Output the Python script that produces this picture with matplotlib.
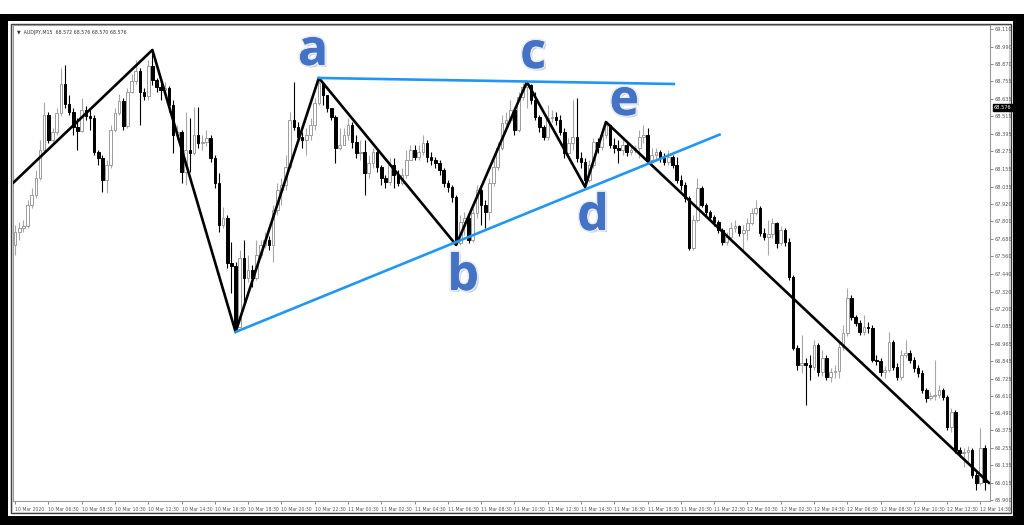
import matplotlib
matplotlib.use('Agg')
import matplotlib.pyplot as plt
import matplotlib.patheffects as pe
import matplotlib.transforms as mtransforms
from matplotlib.patches import Rectangle
import numpy as np

# AUDJPY M15, 10 Mar 04:30 -> 12 Mar 14:30
first_open = 67.638
closes = [
    67.726, 67.754, 67.767, 67.911, 67.979, 68.095, 68.285, 68.524, 68.354, 68.408,
    68.538, 68.735, 68.599, 68.545, 68.442, 68.415, 68.558, 68.517, 68.504, 68.272,
    68.231, 68.081, 68.183, 68.422, 68.538, 68.619, 68.449, 68.681, 68.756, 68.824,
    68.681, 68.654, 68.858, 68.763, 68.715, 68.695, 68.708, 68.592, 68.388, 68.408,
    68.135, 68.285, 68.265, 68.388, 68.333, 68.340, 68.367, 68.231, 68.060, 67.774,
    67.822, 67.515, 67.495, 67.079, 67.549, 67.413, 67.467, 67.413, 67.570, 67.638,
    67.672, 67.638, 67.876, 68.013, 68.047, 68.170, 68.490, 68.442, 68.374, 68.354,
    68.388, 68.456, 68.606, 68.742, 68.660, 68.572, 68.510, 68.299, 68.320, 68.388,
    68.456, 68.340, 68.265, 68.272, 68.129, 68.197, 68.272, 68.170, 68.095, 68.067,
    68.183, 68.115, 68.060, 68.115, 68.217, 68.285, 68.238, 68.272, 68.333, 68.238,
    68.217, 68.197, 68.149, 68.060, 68.033, 67.965, 67.651, 67.795, 67.822, 67.672,
    67.856, 68.013, 67.911, 67.863, 68.060, 68.170, 68.299, 68.470, 68.490, 68.558,
    68.422, 68.647, 68.715, 68.729, 68.626, 68.510, 68.442, 68.374, 68.504, 68.510,
    68.490, 68.408, 68.265, 68.333, 68.374, 68.231, 68.204, 68.081, 68.183, 68.340,
    68.306, 68.388, 68.456, 68.320, 68.299, 68.285, 68.320, 68.272, 68.285, 68.299,
    68.374, 68.388, 68.217, 68.251, 68.272, 68.231, 68.204, 68.238, 68.183, 68.081,
    68.047, 67.958, 67.617, 67.808, 68.026, 67.911, 67.863, 67.829, 67.795, 67.740,
    67.658, 67.692, 67.754, 67.767, 67.720, 67.740, 67.788, 67.856, 67.890, 67.720,
    67.692, 67.713, 67.788, 67.651, 67.740, 67.658, 67.420, 66.936, 66.820, 66.833,
    66.820, 66.806, 66.956, 66.772, 66.868, 66.738, 66.772, 66.779, 66.943, 67.038,
    67.277, 67.147, 67.106, 67.045, 67.079, 67.072, 66.854, 66.847, 66.772, 66.786,
    66.977, 66.806, 66.738, 66.888, 66.902, 66.854, 66.799, 66.765, 66.649, 66.595,
    66.609, 66.615, 66.649, 66.602, 66.397, 66.499, 66.240, 66.220, 66.227, 66.240,
    66.070, 66.015, 66.254, 66.022,
]
highs = [
    67.774, 67.795, 67.808, 67.945, 68.026, 68.149, 68.354, 68.612, 68.545, 68.435,
    68.572, 68.844, 68.865, 68.660, 68.572, 68.504, 68.640, 68.585, 68.558, 68.524,
    68.285, 68.251, 68.217, 68.456, 68.572, 68.667, 68.640, 68.708, 68.804, 68.899,
    68.844, 68.708, 68.899, 68.967, 68.776, 68.742, 68.749, 68.722, 68.626, 68.456,
    68.422, 68.545, 68.504, 68.579, 68.579, 68.388, 68.422, 68.388, 68.251, 68.129,
    67.897, 67.842, 67.658, 67.522, 67.604, 67.672, 67.570, 67.502, 67.672, 67.672,
    67.726, 67.699, 67.911, 68.060, 68.095, 68.251, 68.545, 68.749, 68.476, 68.408,
    68.435, 68.504, 68.640, 68.776, 68.729, 68.626, 68.572, 68.524, 68.435, 68.435,
    68.504, 68.476, 68.388, 68.354, 68.354, 68.251, 68.299, 68.285, 68.183, 68.115,
    68.231, 68.231, 68.149, 68.163, 68.285, 68.320, 68.320, 68.320, 68.388, 68.354,
    68.272, 68.238, 68.217, 68.163, 68.081, 68.047, 67.979, 67.842, 67.863, 67.842,
    67.890, 68.047, 68.026, 67.945, 68.095, 68.217, 68.340, 68.524, 68.545, 68.626,
    68.572, 68.681, 68.742, 68.749, 68.735, 68.681, 68.524, 68.456, 68.592, 68.558,
    68.545, 68.524, 68.435, 68.367, 68.626, 68.640, 68.272, 68.231, 68.217, 68.367,
    68.367, 68.435, 68.476, 68.435, 68.367, 68.354, 68.367, 68.333, 68.320, 68.320,
    68.422, 68.456, 68.435, 68.299, 68.299, 68.285, 68.265, 68.285, 68.251, 68.238,
    68.115, 68.067, 67.972, 67.842, 68.095, 68.040, 67.924, 67.876, 67.842, 67.808,
    67.754, 67.726, 67.795, 67.808, 67.774, 67.774, 67.822, 67.890, 67.945, 67.904,
    67.754, 67.808, 67.822, 67.795, 67.767, 67.754, 67.686, 67.433, 66.956, 67.024,
    66.868, 66.888, 66.990, 66.970, 66.922, 66.888, 66.799, 66.820, 66.970, 67.093,
    67.345, 67.297, 67.161, 67.127, 67.161, 67.113, 67.093, 66.888, 66.868, 66.813,
    67.045, 66.990, 66.833, 66.922, 66.990, 66.922, 66.874, 66.820, 66.786, 66.663,
    66.636, 66.854, 66.683, 66.663, 66.615, 66.527, 66.513, 66.261, 66.254, 66.268,
    66.254, 66.090, 66.390, 66.274,
]
lows = [
    67.570, 67.672, 67.726, 67.754, 67.890, 67.958, 68.081, 68.272, 68.333, 68.340,
    68.388, 68.517, 68.572, 68.524, 68.388, 68.285, 68.408, 68.490, 68.422, 68.251,
    68.183, 67.999, 67.992, 68.163, 68.408, 68.524, 68.422, 68.435, 68.674, 68.735,
    68.456, 68.626, 68.626, 68.729, 68.681, 68.626, 68.660, 68.545, 68.265, 68.354,
    68.060, 68.047, 68.135, 68.251, 68.299, 68.285, 68.313, 68.204, 68.026, 67.726,
    67.754, 67.481, 67.311, 67.045, 67.079, 67.242, 67.386, 67.352, 67.399, 67.549,
    67.617, 67.604, 67.522, 67.842, 67.911, 68.013, 68.163, 68.422, 68.340, 68.299,
    68.251, 68.354, 68.422, 68.592, 68.592, 68.545, 68.490, 68.197, 68.285, 68.320,
    68.354, 68.299, 68.231, 68.217, 67.979, 68.095, 68.163, 68.135, 68.047, 68.026,
    68.047, 68.026, 68.040, 68.047, 68.095, 68.231, 68.217, 68.217, 68.251, 68.204,
    68.183, 68.163, 68.115, 68.033, 67.999, 67.931, 67.638, 67.638, 67.706, 67.651,
    67.658, 67.822, 67.774, 67.754, 67.808, 68.040, 68.149, 68.285, 68.435, 68.470,
    68.388, 68.408, 68.626, 68.572, 68.599, 68.490, 68.408, 68.354, 68.354, 68.476,
    68.456, 68.388, 68.231, 68.231, 68.285, 68.204, 68.163, 68.033, 68.067, 68.163,
    68.265, 68.285, 68.367, 68.299, 68.265, 68.197, 68.251, 68.245, 68.251, 68.265,
    68.231, 68.333, 68.204, 68.197, 68.217, 68.204, 68.183, 68.183, 68.163, 68.060,
    68.013, 67.931, 67.604, 67.604, 67.795, 67.897, 67.842, 67.808, 67.767, 67.720,
    67.638, 67.638, 67.672, 67.726, 67.699, 67.590, 67.672, 67.774, 67.842, 67.699,
    67.672, 67.570, 67.686, 67.617, 67.638, 67.631, 67.399, 66.922, 66.786, 66.765,
    66.547, 66.718, 66.786, 66.745, 66.745, 66.718, 66.704, 66.731, 66.731, 66.922,
    67.018, 67.127, 67.086, 67.024, 67.024, 67.038, 66.840, 66.820, 66.745, 66.731,
    66.772, 66.786, 66.718, 66.718, 66.868, 66.833, 66.772, 66.738, 66.629, 66.568,
    66.581, 66.581, 66.595, 66.581, 66.377, 66.363, 66.220, 66.193, 66.125, 66.159,
    66.050, 65.968, 66.002, 65.968,
]

# swing points drawn by hand on the chart (bar index, price)
zigzag_bar = [-0.5, 33, 53, 73, 106, 123, 137, 142, 234.1]
zigzag_price = [68.060, 68.967, 67.045, 68.776, 67.638, 68.749, 68.033, 68.476, 66.015]
support_bar = [53, 169.3]
support_price = [67.045, 68.390]
resist_bar = [73, 158.3]
resist_price = [68.776, 68.735]

point_names = ['a', 'b', 'c', 'd', 'e']
point_bar = [71.6, 107.7, 124.5, 138.9, 146.4]
point_price = [68.865, 67.331, 68.844, 67.740, 68.524]

price_ticks = [69.110, 68.990, 68.870, 68.755, 68.635, 68.515, 68.395, 68.275, 68.155,
               68.035, 67.920, 67.800, 67.680, 67.560, 67.440, 67.320, 67.200, 67.085,
               66.965, 66.845, 66.725, 66.610, 66.490, 66.375, 66.255, 66.135, 66.015,
               65.900]
time_labels = ['10 Mar 2020', '10 Mar 06:30', '10 Mar 08:30', '10 Mar 10:30', '10 Mar 12:30',
               '10 Mar 14:30', '10 Mar 16:30', '10 Mar 18:30', '10 Mar 20:30', '10 Mar 22:30',
               '11 Mar 00:30', '11 Mar 02:30', '11 Mar 04:30', '11 Mar 06:30', '11 Mar 08:30',
               '11 Mar 10:30', '11 Mar 12:30', '11 Mar 14:30', '11 Mar 16:30', '11 Mar 18:30',
               '11 Mar 20:30', '11 Mar 22:30', '12 Mar 00:30', '12 Mar 02:30', '12 Mar 04:30',
               '12 Mar 06:30', '12 Mar 08:30', '12 Mar 10:30', '12 Mar 12:30', '12 Mar 14:30']
last_price = 68.576

W, H = 1024, 525
fig = plt.figure(figsize=(W / 100, H / 100), dpi=100)
fig.patch.set_facecolor('white')


def frame_rect(x0, y0, x1, y1, **kw):
    # screen-capture frame, given in pixels from the top left
    fig.patches.append(Rectangle((x0 / W, 1 - y1 / H), (x1 - x0) / W, (y1 - y0) / H,
                                 transform=fig.transFigure, zorder=-10, **kw))


frame_rect(0, 14, W, H, facecolor='black', edgecolor='none')
frame_rect(8, 21, 1013, 516, facecolor='white', edgecolor='none')
frame_rect(10.5, 23.5, 1010.5, 513, facecolor='white', edgecolor='#3a3a3a', linewidth=1.0)
frame_rect(12, 24.5, 1009, 511.5, facecolor='none', edgecolor='#c8c8c8', linewidth=0.8)

ax = fig.add_axes([13 / W, 1 - 501 / H, (990 - 13) / W, (501 - 25) / H])
ax.set_facecolor('white')

c = np.array(closes)
o = np.array([first_open] + closes[:-1])
hi = np.maximum(np.array(highs), np.maximum(o, c))
lo = np.minimum(np.array(lows), np.minimum(o, c))
x = np.arange(len(c))
up = c >= o

ax.vlines(x[up], lo[up], hi[up], color='#a8a8a8', lw=0.8, zorder=2)
ax.vlines(x[~up], lo[~up], hi[~up], color='black', lw=0.8, zorder=2)
ax.bar(x[up], (c - o)[up], bottom=o[up], width=0.62, facecolor='white',
       edgecolor='#9c9c9c', linewidth=0.7, zorder=3)
ax.bar(x[~up], (o - c)[~up], bottom=c[~up], width=0.62, facecolor='black',
       edgecolor='black', linewidth=0.7, zorder=3)

ax.plot(zigzag_bar, zigzag_price, color='black', lw=1.9, zorder=4, solid_capstyle='round')
ax.plot(support_bar, support_price, color='#2196f3', lw=1.9, zorder=4)
ax.plot(resist_bar, resist_price, color='#2196f3', lw=1.9, zorder=4)

for name, b, p in zip(point_names, point_bar, point_price):
    ax.text(b, p, name, fontsize=36, fontweight='bold', family='Open Sans', color='#4472c4',
            ha='center', va='baseline', zorder=5,
            path_effects=[pe.SimplePatchShadow(offset=(1.5, -1.5), shadow_rgbFace='#8a93a3', alpha=0.5),
                          pe.withStroke(linewidth=2.5, foreground='#e4e9f2'), pe.Normal()])

ax.set_xlim(-0.5, 234.3)
ax.set_ylim(65.893, 69.137)

for s in ax.spines.values():
    s.set_color('#9a9a9a')
    s.set_linewidth(0.8)

ax.yaxis.tick_right()
ax.set_yticks(price_ticks)
ax.set_yticklabels([f'{v:.3f}' for v in price_ticks])
ax.tick_params(axis='y', length=2.5, width=0.5, colors='#555555', labelsize=3.6, pad=1)

ax.set_xticks(range(0, 8 * len(time_labels), 8))
ax.set_xticklabels(time_labels)
for lab in ax.get_xticklabels():
    lab.set_ha('left')
ax.tick_params(axis='x', length=2.5, width=0.5, colors='#555555', labelsize=3.3, pad=1.5)

ax.text(0.004, 0.984, '\u25bc  AUDJPY,M15  68.572 68.576 68.570 68.576', transform=ax.transAxes,
        fontsize=3.4, color='#333333', va='center', ha='left')

trans = mtransforms.blended_transform_factory(ax.transAxes, ax.transData)
ax.text(1.004, last_price, f'{last_price:.3f}', transform=trans, fontsize=3.6, color='white',
        va='center', ha='left', clip_on=False, zorder=6,
        bbox=dict(boxstyle='square,pad=0.2', facecolor='black', edgecolor='black'))

fig.savefig('out.png', dpi=100, facecolor='white')
